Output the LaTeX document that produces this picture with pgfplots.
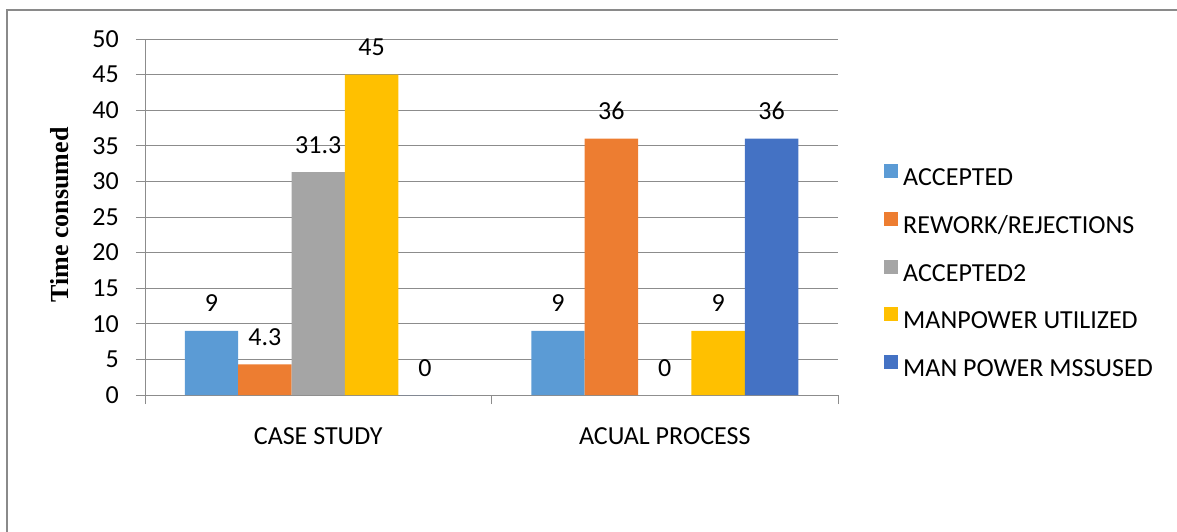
\documentclass[border=0pt]{standalone}
\usepackage{fontspec}
\setmainfont{Carlito}
\newfontfamily\seriffont{Liberation Serif}
\usepackage{pgfplots}
\pgfplotsset{compat=1.18}
\definecolor{cA}{HTML}{5B9BD5}
\definecolor{cB}{HTML}{ED7D31}
\definecolor{cC}{HTML}{A5A5A5}
\definecolor{cD}{HTML}{FFC000}
\definecolor{cE}{HTML}{4472C4}
\definecolor{axgray}{HTML}{8C8C8C}
\definecolor{framegray}{HTML}{8A8A8A}
\newcommand{\bigf}{\fontsize{26}{31}\selectfont}
\begin{document}
\begin{tikzpicture}
\path[use as bounding box] (0pt,0pt) rectangle (1177pt,531pt);
\draw[framegray, line width=2pt] (7pt,-5pt) -- (7pt,521pt) -- (1185pt,521pt);
\begin{axis}[
  at={(145pt,136pt)}, anchor=south west,
  width=693pt, height=356pt, scale only axis,
  xmin=-0.5, xmax=1.5, ymin=0, ymax=50,
  ytick={0,5,...,50},
  xtick={-0.5,0.5,1.5},
  xticklabels={CASE STUDY, ACUAL PROCESS, {}},
  axis lines*=left,
  axis line style={axgray, line width=1pt},
  tick style={axgray, line width=1pt},
  tick align=outside,
  major tick length=9pt,
  ymajorgrids,
  grid style={axgray, line width=1pt},
  /pgf/number format/assume math mode=true,
  tick label style={font=\bigf, text=black},
  xticklabel style={xshift=173.25pt, anchor=base, yshift=-40pt},
  yticklabel style={anchor=east, inner sep=0pt, xshift=-17pt},
  ylabel={\seriffont\bfseries Time consumed},
  ylabel style={at={(axis description cs:-0.1227,0.506)}, rotate=0, anchor=center, font=\fontsize{26}{31}\selectfont},
  ybar, bar width=53.4pt,
  nodes near coords,
  every node near coord/.append style={font=\bigf, text=black, anchor=base, inner sep=0pt, yshift=19pt},
  clip=false,
  legend style={draw=none, fill=none, at={(1.0664,0.343)}, anchor=west, inner sep=0pt,
    font=\bigf, row sep=21.3pt, column sep=5pt,
    nodes={inner sep=0pt, text height=18pt, text depth=5pt}},
  legend cell align=left,
  legend image code/.code={\fill[#1] (0pt,1pt) rectangle (14pt,15pt);},
]
\addplot[fill=cA, draw=none, bar shift=-106.8pt] coordinates {(0,9) (1,9)};
\addplot[fill=cB, draw=none, bar shift=-53.4pt] coordinates {(0,4.3) (1,36)};
\addplot[fill=cC, draw=none, bar shift=0pt] coordinates {(0,31.3) (1,0)};
\addplot[fill=cD, draw=none, bar shift=53.4pt] coordinates {(0,45) (1,9)};
\addplot[fill=cE, draw=none, bar shift=106.8pt] coordinates {(0,0) (1,36)};
\legend{ACCEPTED, REWORK/REJECTIONS, ACCEPTED2, MANPOWER UTILIZED, MAN POWER MSSUSED}
\end{axis}
\end{tikzpicture}
\end{document}
